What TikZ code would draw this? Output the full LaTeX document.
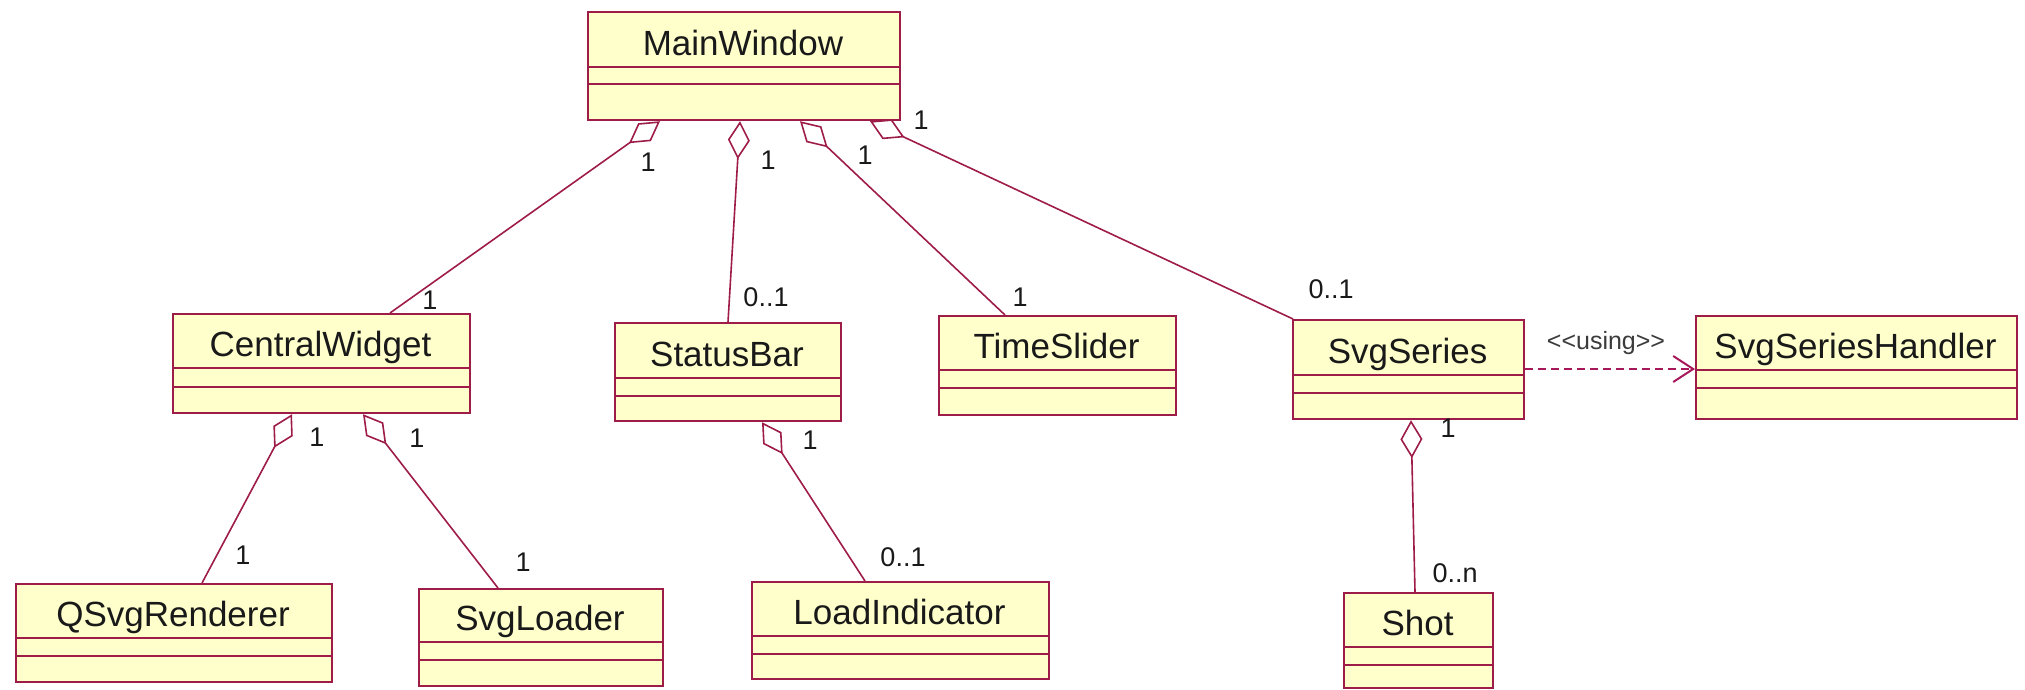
\documentclass[tikz,border=0pt]{standalone}
\usepackage{fontspec}
\setmainfont{Liberation Sans}
\usetikzlibrary{arrows.meta,calc}

\definecolor{umlborder}{RGB}{158,28,72}
\definecolor{umlfill}{RGB}{255,255,204}
\definecolor{umltext}{RGB}{25,25,25}
\definecolor{umldep}{RGB}{165,25,90}

\tikzset{
  classbox/.style={draw=umlborder, fill=umlfill, line width=2.2pt,
    rectangle, inner sep=0pt, anchor=north west},
  classrule/.style={draw=umlborder, line width=2.2pt},
  classname/.style={font=\fontsize{35}{40}\selectfont, text=umltext,
    anchor=base, inner sep=0pt},
  mult/.style={font=\fontsize{27}{30}\selectfont, text=umltext, inner sep=0pt},
  stereo/.style={font=\fontsize{25}{28}\selectfont, text=umltext!85, inner sep=0pt},
  aggregation/.style={draw=umlborder, line width=1.6pt,
    {Diamond[open, length=38pt, width=22pt]}-},
  dependency/.style={draw=umldep, line width=2pt, dash pattern=on 8pt off 5pt,
    -{Straight Barb[length=20pt, width=26pt, line width=2pt]}},
}

% class box: id, left, top, right, bottom, first rule, second rule, name
\newcommand{\umlclass}[8]{%
  \node[classbox, minimum width={(#4-#2)*1pt}, minimum height={(#5-#3)*1pt}]
    (#1) at (#2,#3) {};
  \draw[classrule] (#2,#6) -- (#4,#6) (#2,#7) -- (#4,#7);
  \node[classname] (#1-name) at ({(#2+#4)/2},{#6-12}) {#8};
}

\begin{document}
\begin{tikzpicture}[x=1pt, y=-1pt]
  \useasboundingbox (0,0) rectangle (2025,689);

  % classes
  \umlclass{mw}{587}{11}{899}{119}{67}{84}{MainWindow}
  \umlclass{cw}{172}{313}{469}{412}{368}{387}{CentralWidget}
  \umlclass{sb}{614}{322}{840}{420}{378}{396}{StatusBar}
  \umlclass{ts}{938}{315}{1175}{414}{370}{388}{TimeSlider}
  \umlclass{ss}{1292}{319}{1523}{418}{375}{393}{SvgSeries}
  \umlclass{ssh}{1695}{315}{2016}{418}{370}{388}{SvgSeriesHandler}
  \umlclass{qr}{15}{583}{331}{681}{638}{656}{QSvgRenderer}
  \umlclass{sl}{418}{588}{662}{685}{642}{660}{SvgLoader}
  \umlclass{li}{751}{581}{1048}{678}{636}{654}{LoadIndicator}
  \umlclass{shot}{1343}{592}{1492}{687}{647}{665}{Shot}

  % attachment points on the class borders
  \coordinate (mw-a) at ($(mw.south west)+(73,0)$);
  \coordinate (mw-b) at ($(mw.south west)+(153,0)$);
  \coordinate (mw-c) at ($(mw.south west)+(213,0)$);
  \coordinate (mw-d) at ($(mw.south west)+(283,0)$);
  \coordinate (cw-top) at ($(cw.north west)+(218,0)$);
  \coordinate (sb-top) at ($(sb.north west)+(114,0)$);
  \coordinate (ts-top) at ($(ts.north west)+(67,0)$);
  \coordinate (ss-top) at ($(ss.north west)+(1,0)$);
  \coordinate (cw-a) at ($(cw.south west)+(120,0)$);
  \coordinate (cw-b) at ($(cw.south west)+(191,0)$);
  \coordinate (qr-top) at ($(qr.north west)+(187,0)$);
  \coordinate (sl-top) at ($(sl.north west)+(80,0)$);
  \coordinate (sb-a) at ($(sb.south west)+(148,0)$);
  \coordinate (li-top) at ($(li.north west)+(114,0)$);
  \coordinate (ss-a) at ($(ss.south west)+(119,0)$);
  \coordinate (shot-top) at ($(shot.north west)+(72,0)$);
  \coordinate (ss-r) at ($(ss.north east)+(0,50)$);
  \coordinate (ssh-l) at ($(ssh.north west)+(0,54)$);

  % aggregations
  \draw[aggregation] (mw-a) -- (cw-top);
  \draw[aggregation] (mw-b) -- (sb-top);
  \draw[aggregation] (mw-c) -- (ts-top);
  \draw[aggregation] (mw-d) -- (ss-top);
  \draw[aggregation] (cw-a) -- (qr-top);
  \draw[aggregation] (cw-b) -- (sl-top);
  \draw[aggregation] (sb-a) -- (li-top);
  \draw[aggregation] (ss-a) -- (shot-top);

  % dependency
  \draw[dependency] (ss-r) -- (ssh-l);
  \node[stereo] (using) at (1606,343) {<{}<using>{}>};

  % multiplicities
  \node[mult] (m1) at (648,162) {1};
  \node[mult] (m2) at (430,300) {1};
  \node[mult] (m3) at (768,160) {1};
  \node[mult] (m4) at (766,297) {0..1};
  \node[mult] (m5) at (865,155) {1};
  \node[mult] (m6) at (1020,297) {1};
  \node[mult] (m7) at (921,120) {1};
  \node[mult] (m8) at (1331,289) {0..1};
  \node[mult] (m9) at (317,437) {1};
  \node[mult] (m10) at (243,555) {1};
  \node[mult] (m11) at (417,438) {1};
  \node[mult] (m12) at (523,562) {1};
  \node[mult] (m13) at (810,440) {1};
  \node[mult] (m14) at (903,557) {0..1};
  \node[mult] (m15) at (1448,428) {1};
  \node[mult] (m16) at (1455,573) {0..n};
\end{tikzpicture}
\end{document}
